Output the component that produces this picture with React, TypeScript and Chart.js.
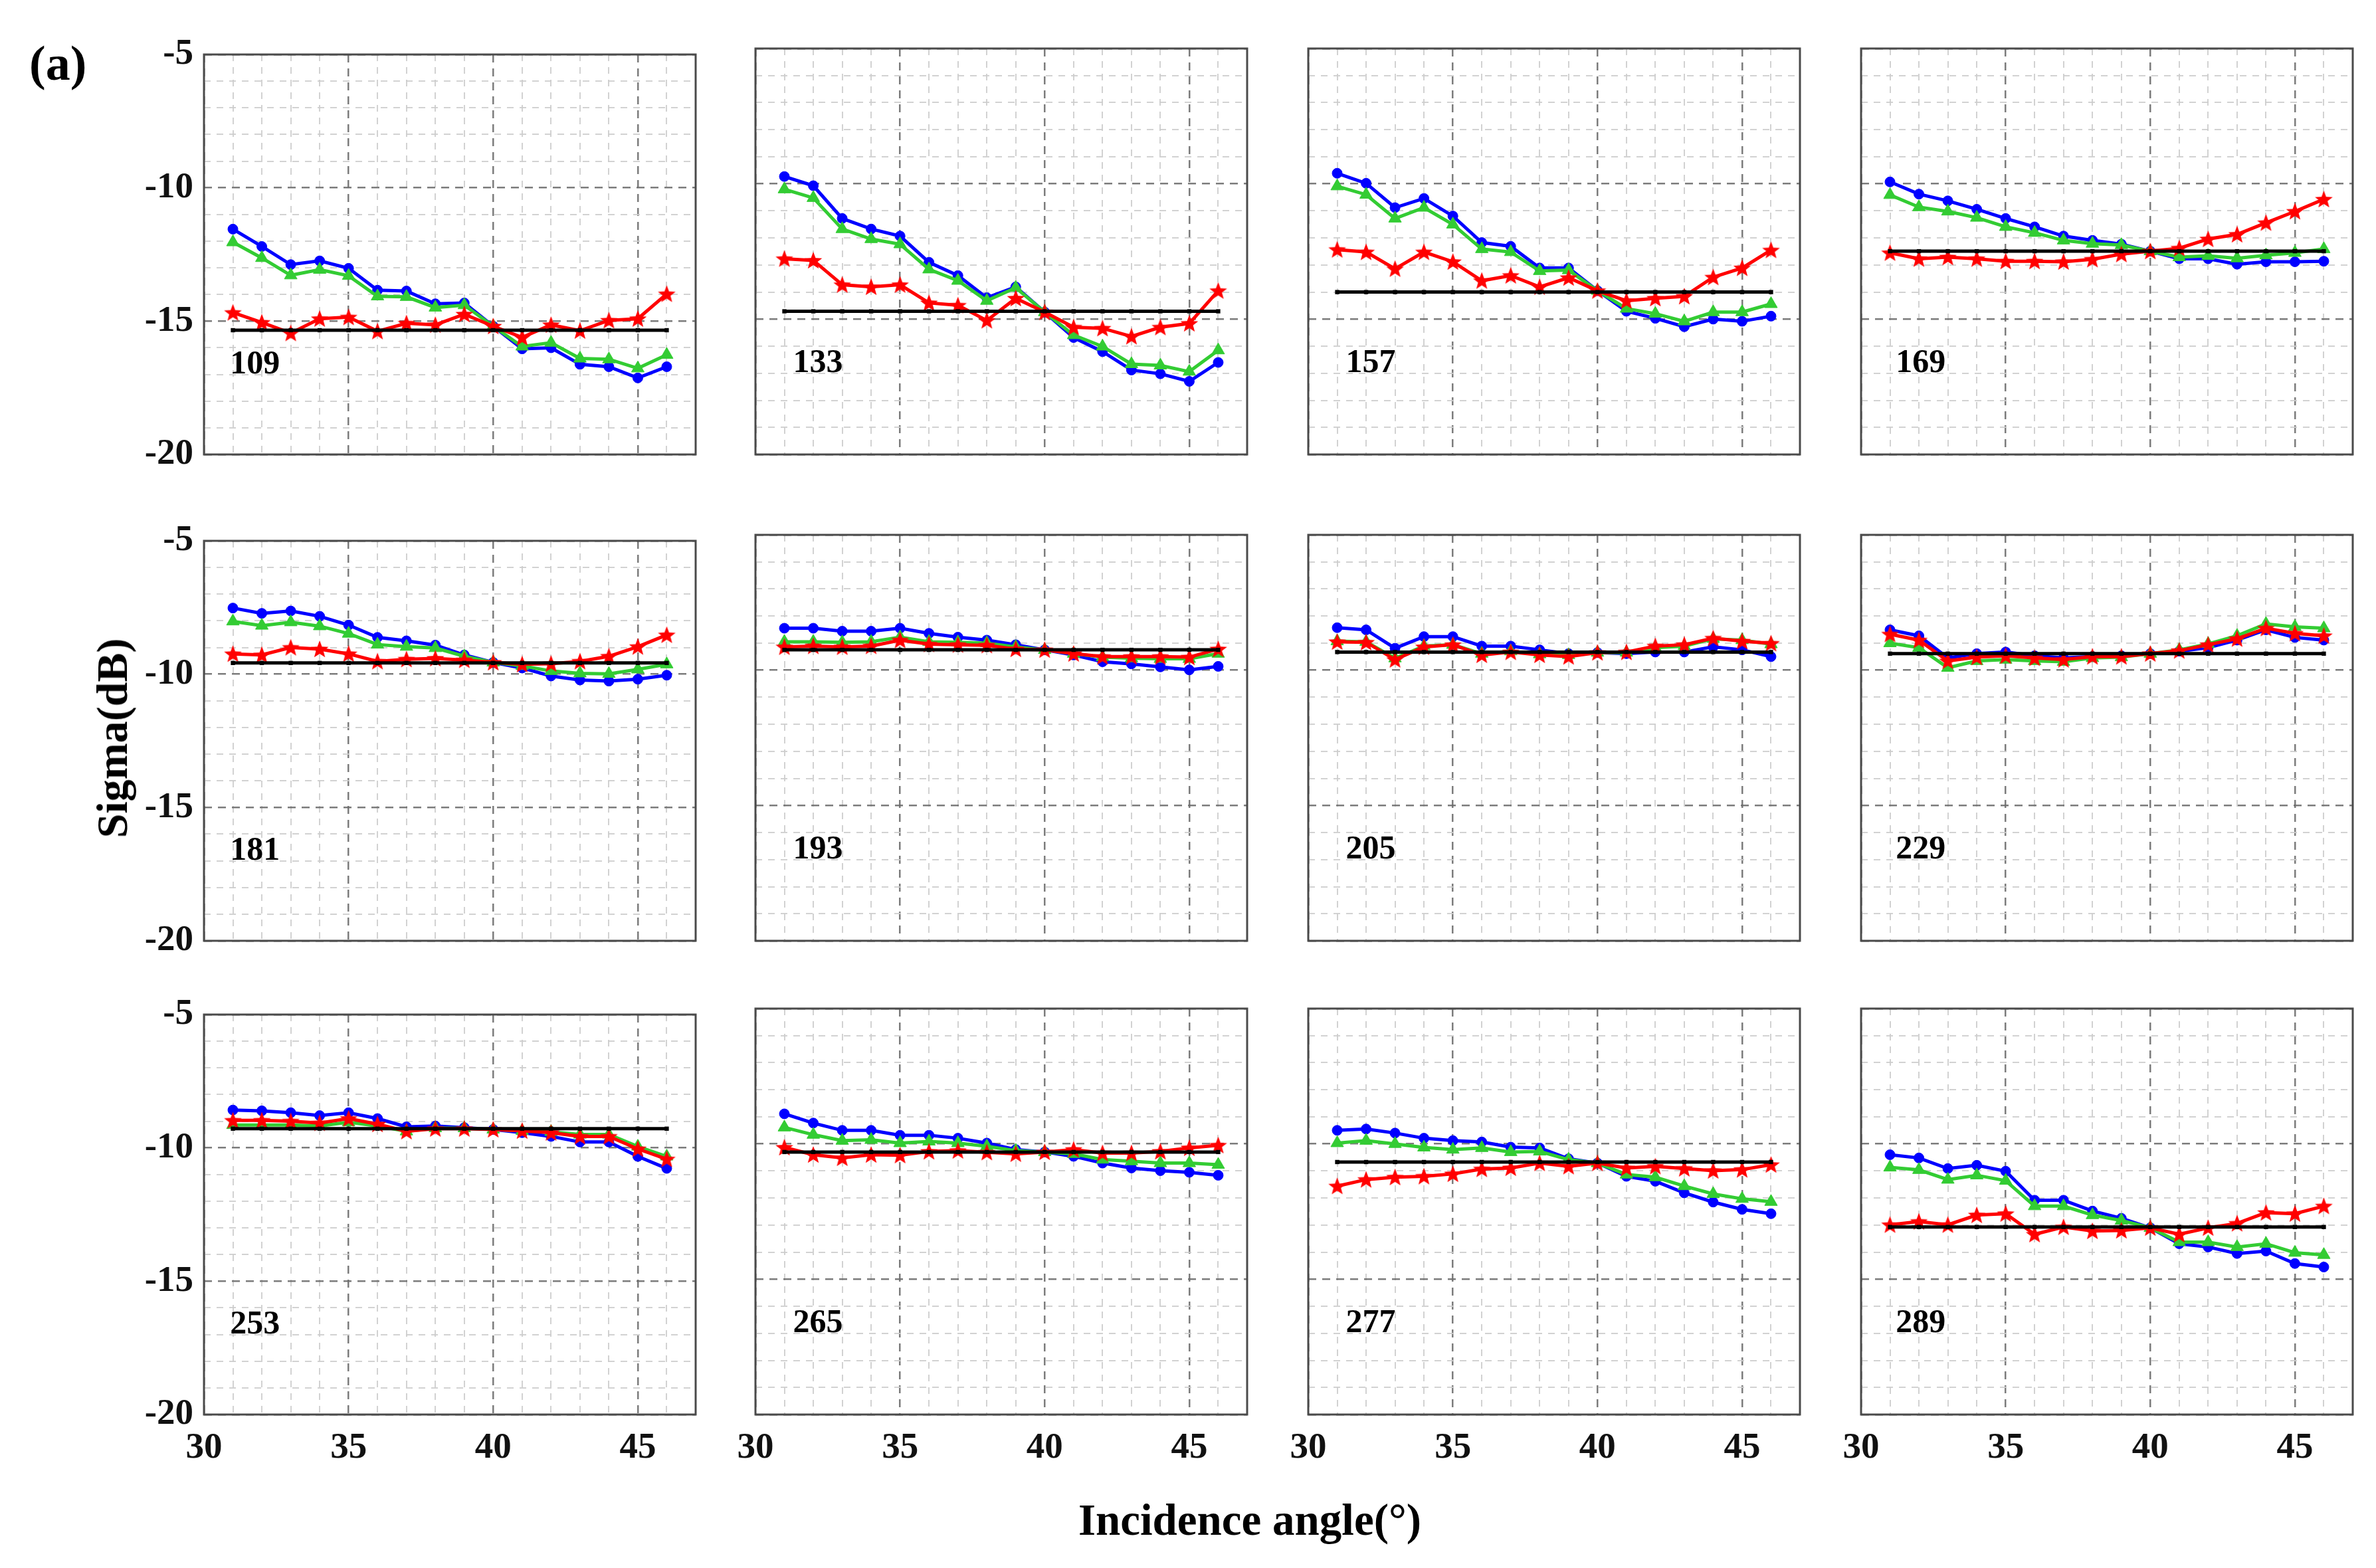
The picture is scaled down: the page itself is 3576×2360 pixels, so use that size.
import React, { useEffect, useRef } from 'react';
import { Chart, registerables } from 'chart.js';
Chart.register(...registerables);

// ---------- data ----------
const angles = [31, 32, 33, 34, 35, 36, 37, 38, 39, 40, 41, 42, 43, 44, 45, 46];
const panelLabels = ['109', '133', '157', '169', '181', '193', '205', '229', '253', '265', '277', '289'];
const xTicks = [30, 35, 40, 45];
const yTicks = [-5, -10, -15, -20];

const blue109 = [-11.55, -12.2, -12.88, -12.74, -13.02, -13.84, -13.87, -14.35, -14.32, -15.19, -16.04, -16.0, -16.62, -16.71, -17.13, -16.71];
const green109 = [-12.04, -12.63, -13.28, -13.07, -13.3, -14.07, -14.09, -14.49, -14.4, -15.19, -15.95, -15.81, -16.4, -16.43, -16.77, -16.26];
const red109 = [-14.68, -15.05, -15.45, -14.91, -14.85, -15.38, -15.08, -15.14, -14.74, -15.19, -15.61, -15.14, -15.36, -14.97, -14.91, -13.98];

const blue133 = [-9.73, -10.07, -11.28, -11.67, -11.93, -12.9, -13.39, -14.21, -13.81, -14.74, -15.68, -16.2, -16.88, -17.02, -17.3, -16.6];
const green133 = [-10.2, -10.52, -11.67, -12.04, -12.23, -13.16, -13.58, -14.32, -13.84, -14.74, -15.59, -16.01, -16.66, -16.71, -16.94, -16.15];
const red133 = [-12.77, -12.83, -13.73, -13.81, -13.73, -14.4, -14.49, -15.05, -14.23, -14.74, -15.3, -15.34, -15.64, -15.3, -15.16, -13.95];

const blue157 = [-9.61, -9.98, -10.88, -10.54, -11.19, -12.17, -12.31, -13.11, -13.11, -13.95, -14.71, -14.97, -15.28, -15.0, -15.08, -14.89];
const green157 = [-10.09, -10.4, -11.28, -10.88, -11.5, -12.41, -12.52, -13.22, -13.19, -13.95, -14.61, -14.8, -15.08, -14.74, -14.74, -14.44];
const red157 = [-12.43, -12.52, -13.14, -12.52, -12.88, -13.58, -13.39, -13.81, -13.47, -13.95, -14.32, -14.23, -14.16, -13.45, -13.11, -12.45];

const blue169 = [-9.93, -10.38, -10.63, -10.94, -11.28, -11.59, -11.93, -12.09, -12.23, -12.49, -12.77, -12.77, -12.97, -12.88, -12.88, -12.86];
const green169 = [-10.41, -10.86, -11.02, -11.25, -11.59, -11.81, -12.09, -12.21, -12.26, -12.49, -12.71, -12.66, -12.75, -12.64, -12.55, -12.41];
const red169 = [-12.55, -12.77, -12.71, -12.77, -12.86, -12.86, -12.88, -12.79, -12.6, -12.49, -12.38, -12.04, -11.87, -11.44, -11.02, -10.57];

const blue181 = [-7.52, -7.72, -7.63, -7.83, -8.16, -8.62, -8.75, -8.91, -9.28, -9.56, -9.77, -10.07, -10.22, -10.26, -10.19, -10.04];
const green181 = [-8.02, -8.18, -8.05, -8.2, -8.48, -8.89, -8.97, -9.02, -9.33, -9.56, -9.69, -9.88, -9.97, -9.99, -9.82, -9.63];
const red181 = [-9.24, -9.28, -9.0, -9.06, -9.24, -9.52, -9.44, -9.41, -9.47, -9.56, -9.63, -9.61, -9.52, -9.33, -8.97, -8.53];

const blue193 = [-8.45, -8.45, -8.56, -8.56, -8.45, -8.64, -8.78, -8.89, -9.06, -9.25, -9.44, -9.69, -9.77, -9.88, -9.99, -9.86];
const green193 = [-8.95, -8.95, -8.97, -8.95, -8.78, -8.95, -8.97, -9.0, -9.14, -9.25, -9.39, -9.52, -9.56, -9.58, -9.58, -9.39];
const red193 = [-9.14, -9.11, -9.14, -9.11, -8.89, -9.04, -9.06, -9.08, -9.22, -9.25, -9.39, -9.5, -9.5, -9.5, -9.52, -9.22];

const blue205 = [-8.43, -8.51, -9.19, -8.76, -8.76, -9.11, -9.11, -9.25, -9.39, -9.35, -9.39, -9.33, -9.33, -9.14, -9.25, -9.5];
const green205 = [-8.93, -8.95, -9.56, -9.11, -9.06, -9.39, -9.3, -9.41, -9.44, -9.35, -9.35, -9.17, -9.11, -8.84, -8.89, -9.04];
const red205 = [-8.95, -8.97, -9.61, -9.14, -9.06, -9.44, -9.33, -9.44, -9.5, -9.35, -9.33, -9.11, -9.06, -8.82, -8.93, -9.01];

const blue229 = [-8.51, -8.73, -9.55, -9.39, -9.33, -9.47, -9.55, -9.5, -9.47, -9.39, -9.3, -9.17, -8.89, -8.51, -8.79, -8.89];
const green229 = [-9.0, -9.17, -9.91, -9.66, -9.61, -9.66, -9.69, -9.55, -9.52, -9.39, -9.25, -9.03, -8.73, -8.29, -8.4, -8.45];
const red229 = [-8.67, -8.89, -9.66, -9.52, -9.47, -9.55, -9.61, -9.5, -9.5, -9.39, -9.28, -9.06, -8.84, -8.45, -8.64, -8.73];

const blue253 = [-8.58, -8.61, -8.68, -8.79, -8.68, -8.9, -9.21, -9.18, -9.24, -9.31, -9.43, -9.57, -9.78, -9.78, -10.32, -10.77];
const green253 = [-9.14, -9.14, -9.14, -9.18, -9.04, -9.18, -9.38, -9.26, -9.26, -9.31, -9.36, -9.4, -9.5, -9.5, -9.95, -10.32];
const red253 = [-8.97, -8.97, -9.0, -9.07, -8.9, -9.11, -9.38, -9.28, -9.28, -9.31, -9.36, -9.43, -9.57, -9.57, -10.04, -10.42];

const blue265 = [-8.89, -9.23, -9.5, -9.5, -9.68, -9.68, -9.79, -9.97, -10.21, -10.3, -10.46, -10.71, -10.89, -10.99, -11.05, -11.16];
const green265 = [-9.39, -9.66, -9.88, -9.85, -9.97, -9.91, -9.97, -10.09, -10.25, -10.3, -10.37, -10.58, -10.64, -10.71, -10.71, -10.77];
const red265 = [-10.13, -10.4, -10.52, -10.4, -10.42, -10.28, -10.25, -10.31, -10.37, -10.3, -10.21, -10.34, -10.34, -10.28, -10.15, -10.05];

const blue277 = [-9.5, -9.45, -9.6, -9.79, -9.88, -9.93, -10.12, -10.15, -10.55, -10.71, -11.2, -11.38, -11.81, -12.15, -12.42, -12.58];
const green277 = [-9.97, -9.88, -10.0, -10.13, -10.21, -10.15, -10.3, -10.28, -10.58, -10.71, -11.13, -11.23, -11.56, -11.85, -12.03, -12.14];
const red277 = [-11.56, -11.32, -11.23, -11.2, -11.11, -10.93, -10.89, -10.71, -10.83, -10.71, -10.89, -10.83, -10.91, -10.99, -10.95, -10.77];

const blue289 = [-10.4, -10.52, -10.91, -10.79, -11.01, -12.08, -12.08, -12.48, -12.75, -13.1, -13.69, -13.81, -14.05, -13.96, -14.42, -14.55];
const green289 = [-10.87, -10.96, -11.32, -11.16, -11.36, -12.3, -12.3, -12.63, -12.83, -13.1, -13.63, -13.63, -13.81, -13.69, -14.02, -14.1];
const red289 = [-12.99, -12.87, -12.99, -12.63, -12.58, -13.34, -13.07, -13.22, -13.2, -13.1, -13.34, -13.1, -12.94, -12.54, -12.58, -12.3];

// reference (black) level of each panel
const refLevels = [-15.34, -14.71, -14.0, -12.49, -9.58, -9.25, -9.33, -9.39, -9.28, -10.3, -10.67, -13.07];

const blueSeries = [blue109, blue133, blue157, blue169, blue181, blue193, blue205, blue229, blue253, blue265, blue277, blue289];
const greenSeries = [green109, green133, green157, green169, green181, green193, green205, green229, green253, green265, green277, green289];
const redSeries = [red109, red133, red157, red169, red181, red193, red205, red229, red253, red265, red277, red289];

// ---------- layout ----------
const COLS = [307, 1137, 1969, 2801];
const ROWS = [73, 805, 1518];
const PW = 740;
const PH = 611;
const ML = 140;
const MT = 40;
const MR = 20;
const MB = 100;
const LABEL_X = [30.9, 31.3, 31.3, 31.2];
const FONT = '"Liberation Serif", "Times New Roman", serif';

function makeStar(size: number, color: string) {
  const c = document.createElement('canvas');
  c.width = size;
  c.height = size;
  const ctx = c.getContext('2d')!;
  const cx = size / 2;
  const cy = size / 2 + 1;
  const Rr = size / 2 - 1;
  const r = Rr * 0.42;
  ctx.beginPath();
  for (let i = 0; i < 10; i++) {
    const a = -Math.PI / 2 + (i * Math.PI) / 5;
    const rad = i % 2 === 0 ? Rr : r;
    const px = cx + rad * Math.cos(a);
    const py = cy + rad * Math.sin(a);
    if (i === 0) ctx.moveTo(px, py);
    else ctx.lineTo(px, py);
  }
  ctx.closePath();
  ctx.fillStyle = color;
  ctx.fill();
  return c;
}

const framePlugin = {
  id: 'frame',
  afterDraw(chart: any) {
    const { ctx, chartArea: a } = chart;
    ctx.save();
    ctx.strokeStyle = '#4a4a4a';
    ctx.lineWidth = 3;
    ctx.setLineDash([]);
    ctx.strokeRect(a.left, a.top, a.right - a.left, a.bottom - a.top);
    ctx.restore();
  },
};

function labelPlugin(text: string, xv: number) {
  return {
    id: 'panelLabel',
    afterDatasetsDraw(chart: any) {
      const { ctx, scales } = chart;
      ctx.save();
      ctx.font = `bold 50px ${FONT}`;
      ctx.fillStyle = '#000';
      ctx.textAlign = 'left';
      ctx.textBaseline = 'alphabetic';
      ctx.fillText(text, scales.x.getPixelForValue(xv), scales.y.getPixelForValue(-16.95));
      ctx.restore();
    },
  };
}

const pts = (vals: number[]) => vals.map((v, i) => ({ x: angles[i], y: v }));

export default function App() {
  const refs = useRef<(HTMLCanvasElement | null)[]>([]);

  useEffect(() => {
    const star = makeStar(30, '#ff0000');
    const charts: Chart[] = [];
    panelLabels.forEach((label, i) => {
      const canvas = refs.current[i];
      if (!canvas) return;
      const col = i % 4;
      const row = Math.floor(i / 4);
      const ref = angles.map(() => refLevels[i]);
      const gridColor = (major: boolean) => (major ? 'rgba(110,110,110,0.9)' : 'rgba(205,205,205,0.9)');
      const chart = new Chart(canvas, {
        type: 'line',
        data: {
          datasets: [
            {
              data: pts(ref),
              borderColor: '#000',
              backgroundColor: '#000',
              borderWidth: 5,
              pointStyle: 'rect',
              pointRadius: 4.5,
              pointBorderWidth: 0,
            },
            {
              data: pts(redSeries[i]),
              borderColor: '#ff0000',
              backgroundColor: '#ff0000',
              borderWidth: 5,
              pointStyle: star as any,
              pointRadius: 14,
            },
            {
              data: pts(greenSeries[i]),
              borderColor: '#33cc33',
              backgroundColor: '#33cc33',
              borderWidth: 5,
              pointStyle: 'triangle',
              pointRadius: 11,
              pointBorderWidth: 1,
            },
            {
              data: pts(blueSeries[i]),
              borderColor: '#0000ff',
              backgroundColor: '#0000ff',
              borderWidth: 5,
              pointStyle: 'circle',
              pointRadius: 7.5,
              pointBorderWidth: 1,
            },
          ],
        },
        options: {
          responsive: false,
          animation: false,
          devicePixelRatio: 1,
          events: [],
          layout: { padding: { top: MT, right: MR, left: 0, bottom: 0 } },
          plugins: { legend: { display: false }, tooltip: { enabled: false } },
          elements: { line: { tension: 0 } },
          scales: {
            x: {
              type: 'linear',
              min: 30,
              max: 47,
              afterFit: (s: any) => {
                s.height = MB;
              },
              ticks: {
                stepSize: 1,
                autoSkip: false,
                maxRotation: 0,
                minRotation: 0,
                display: row === 2,
                padding: 18,
                color: '#111',
                font: { family: FONT, size: 55, weight: 'bold' },
                callback: (v: any) => (xTicks.includes(Math.round(Number(v))) ? String(Math.round(Number(v))) : ''),
              },
              grid: {
                drawTicks: false,
                color: (c: any) => gridColor(Math.round(c.tick?.value ?? 0) % 5 === 0),
                lineWidth: (c: any) => (Math.round(c.tick?.value ?? 0) % 5 === 0 ? 2.5 : 2),
              },
              border: {
                display: false,
                dash: (c: any) => (Math.round(c.tick?.value ?? 0) % 5 === 0 ? [12, 9] : [10, 9]),
              },
            },
            y: {
              type: 'linear',
              min: -20,
              max: -5,
              afterFit: (s: any) => {
                s.width = ML;
              },
              ticks: {
                stepSize: 1,
                autoSkip: false,
                display: col === 0,
                padding: 16,
                color: '#111',
                font: { family: FONT, size: 55, weight: 'bold' },
                callback: (v: any) => (yTicks.includes(Math.round(Number(v))) ? String(Math.round(Number(v))) : ''),
              },
              grid: {
                drawTicks: false,
                color: (c: any) => gridColor(Math.round(c.tick?.value ?? 0) % 5 === 0),
                lineWidth: (c: any) => (Math.round(c.tick?.value ?? 0) % 5 === 0 ? 2.5 : 2),
              },
              border: {
                display: false,
                dash: (c: any) => (Math.round(c.tick?.value ?? 0) % 5 === 0 ? [12, 9] : [10, 9]),
              },
            },
          },
        } as any,
        plugins: [framePlugin, labelPlugin(label, LABEL_X[col])],
      });
      charts.push(chart);
    });
    return () => {
      charts.forEach((c) => c.destroy());
    };
  }, []);

  const W = PW + ML + MR;
  const H = PH + MT + MB;

  return (
    <div
      style={{
        position: 'absolute',
        left: 0,
        top: 0,
        width: 3576,
        height: 2360,
        background: '#fff',
        overflow: 'hidden',
        fontFamily: FONT,
      }}
    >
      {panelLabels.map((label, i) => {
        const col = i % 4;
        const row = Math.floor(i / 4);
        return (
          <canvas
            key={label}
            ref={(el) => {
              refs.current[i] = el;
            }}
            width={W}
            height={H}
            style={{
              position: 'absolute',
              left: COLS[col] - ML,
              top: ROWS[row] - MT,
              width: W,
              height: H,
            }}
          />
        );
      })}
      <div
        style={{
          position: 'absolute',
          left: 44,
          top: 58,
          fontSize: 74,
          fontWeight: 'bold',
          lineHeight: 1,
          whiteSpace: 'nowrap',
        }}
      >
        (a)
      </div>
      <div
        style={{
          position: 'absolute',
          left: 169,
          top: 1111,
          transform: 'translate(-50%, -50%) rotate(-90deg)',
          fontSize: 66,
          fontWeight: 'bold',
          lineHeight: 1,
          whiteSpace: 'nowrap',
        }}
      >
        Sigma(dB)
      </div>
      <div
        style={{
          position: 'absolute',
          left: 1881,
          top: 2287,
          transform: 'translate(-50%, -50%)',
          fontSize: 67,
          fontWeight: 'bold',
          lineHeight: 1,
          whiteSpace: 'nowrap',
        }}
      >
        Incidence angle(°)
      </div>
    </div>
  );
}
